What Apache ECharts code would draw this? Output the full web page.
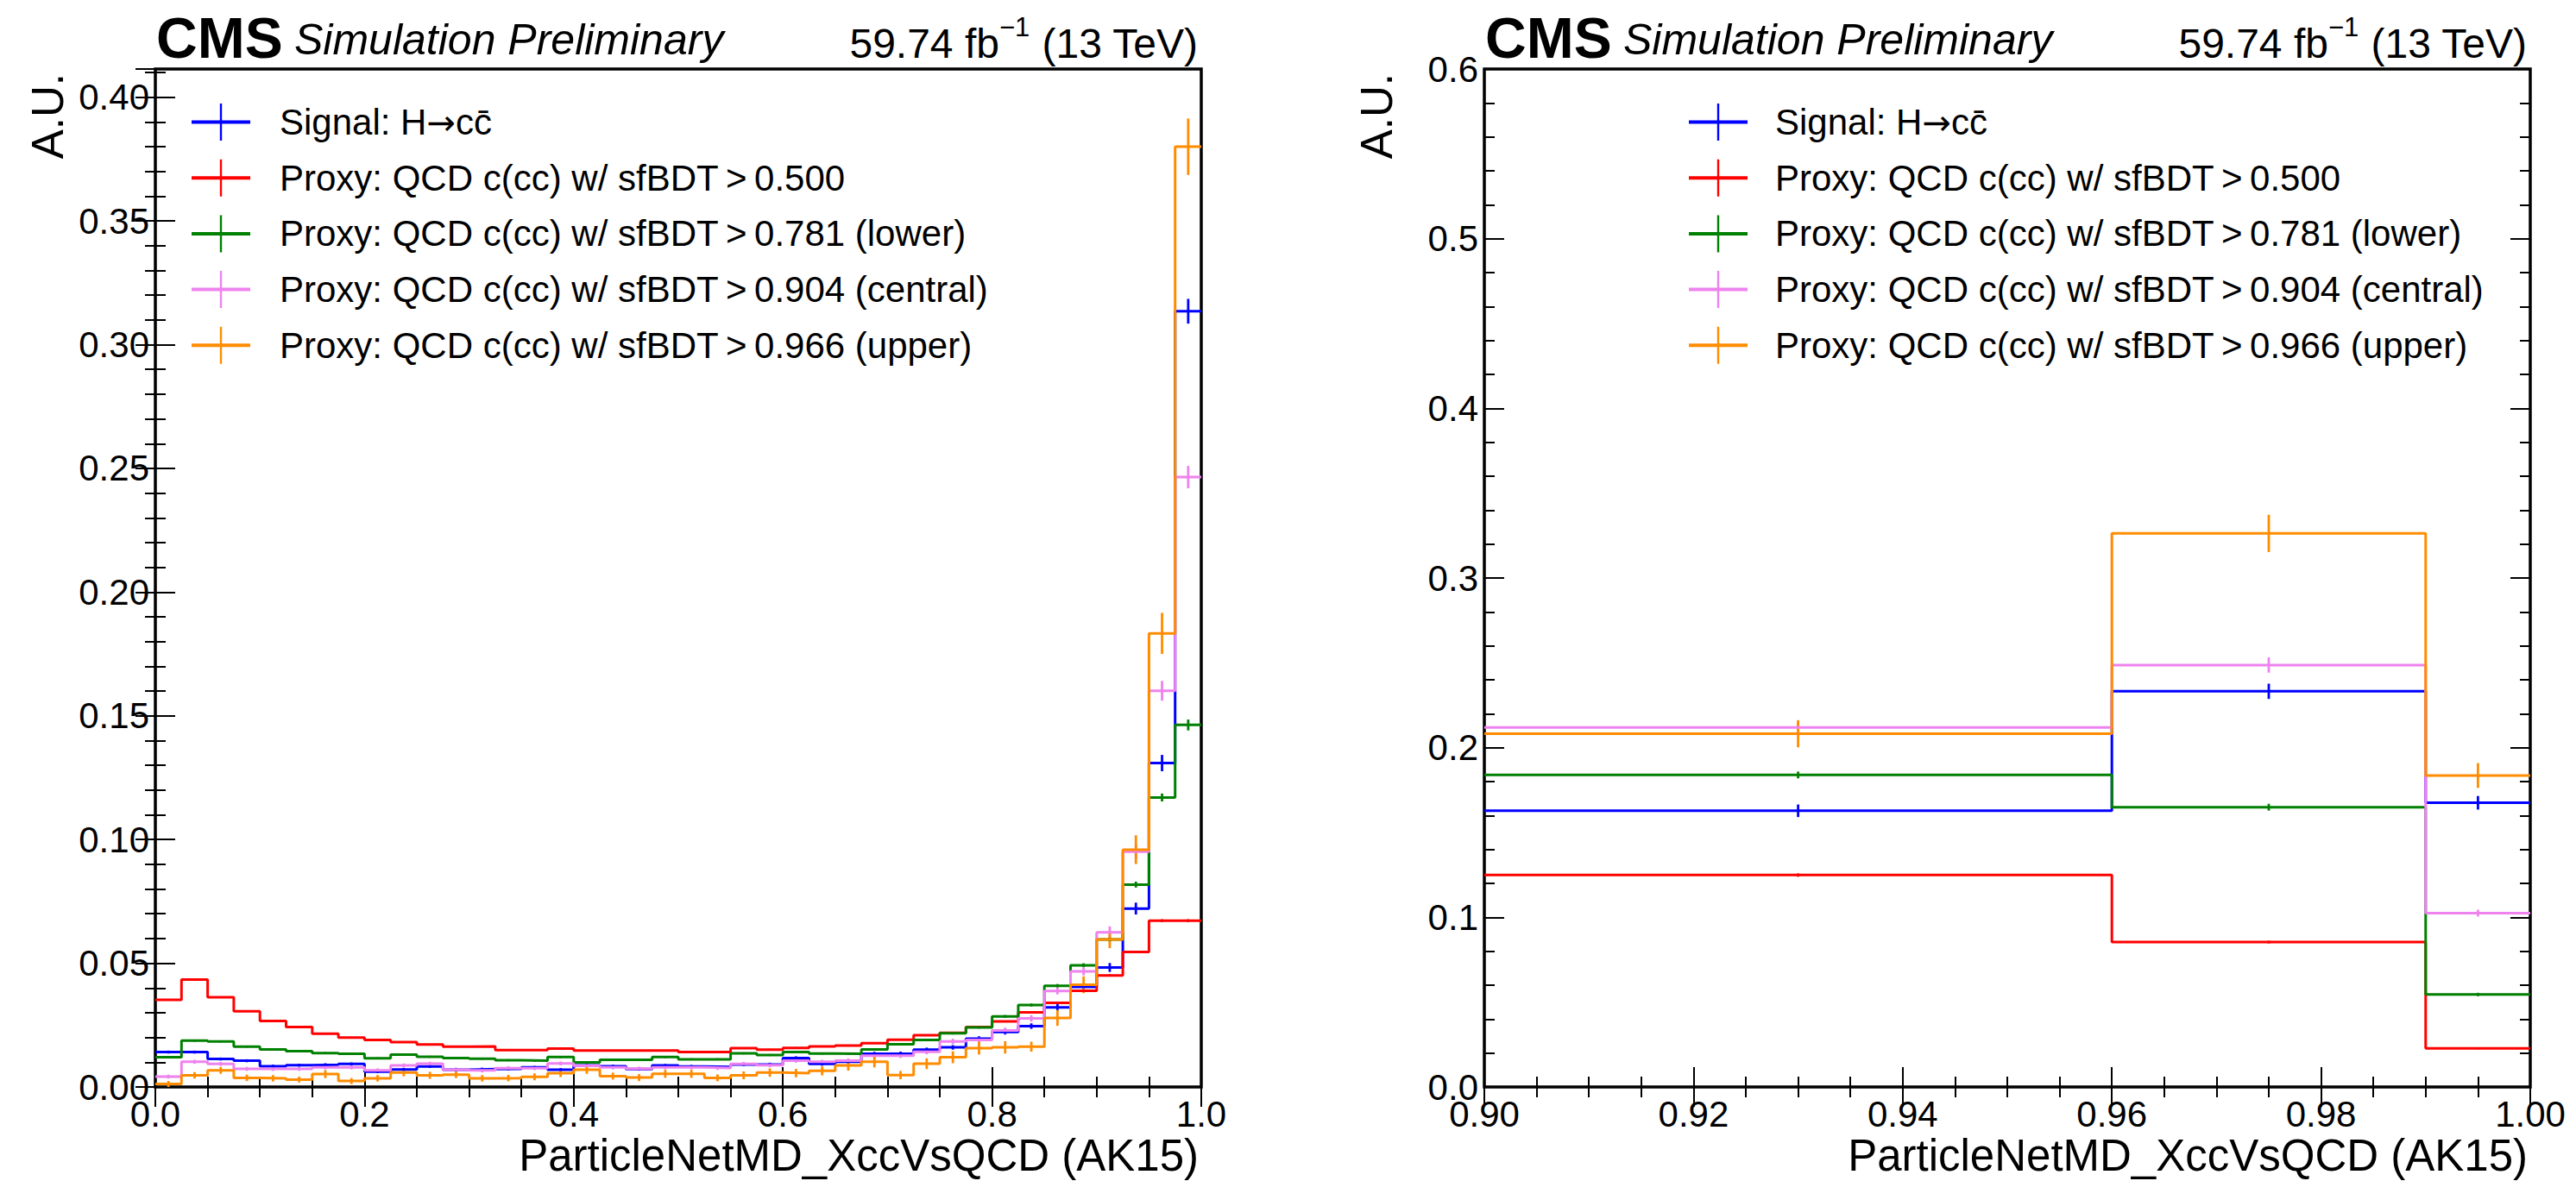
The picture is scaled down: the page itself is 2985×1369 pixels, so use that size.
<!DOCTYPE html>
<html>
<head>
<meta charset="utf-8">
<title>ParticleNetMD_XccVsQCD (AK15)</title>
<script src="https://cdn.jsdelivr.net/npm/echarts@6/dist/echarts.min.js"></script>
<style>
  html, body { margin: 0; padding: 0; background: #fff; }
  #main { width: 2985px; height: 1369px; }
</style>
</head>
<body>
<div id="main"></div>
<script>
// ---------------- data ----------------
const seriesNames = [
    'Signal: H\u2192cc\u0304',
    'Proxy: QCD c(cc) w/ sfBDT\u2009>\u20090.500',
    'Proxy: QCD c(cc) w/ sfBDT\u2009>\u20090.781 (lower)',
    'Proxy: QCD c(cc) w/ sfBDT\u2009>\u20090.904 (central)',
    'Proxy: QCD c(cc) w/ sfBDT\u2009>\u20090.966 (upper)'
];
const seriesColors = ['#0000ff', '#ff0000', '#008000', '#ee82ee', '#ff8c00'];

// left panel: 40 bins of width 0.025 on [0, 1]
const wideEdges = Array.from({ length: 41 }, (_, i) => +(i * 0.025).toFixed(3));

const signalWide = [0.0141, 0.0141, 0.0113, 0.0106, 0.0084, 0.0088, 0.0090, 0.0093, 0.0062, 0.0071,
    0.0083, 0.0070, 0.0072, 0.0073, 0.0079, 0.0070, 0.0087, 0.0084, 0.0072, 0.0087,
    0.0083, 0.0081, 0.0091, 0.0091, 0.0117, 0.0093, 0.0102, 0.0134, 0.0135, 0.0151,
    0.0160, 0.0195, 0.0222, 0.0246, 0.0322, 0.0404, 0.0483, 0.0721, 0.1309, 0.3135];
const proxy500Wide = [0.0352, 0.0434, 0.0363, 0.0306, 0.0267, 0.0242, 0.0215, 0.0200, 0.0190, 0.0181,
    0.0172, 0.0163, 0.0164, 0.0149, 0.0149, 0.0155, 0.0147, 0.0147, 0.0147, 0.0147,
    0.0141, 0.0141, 0.0157, 0.0151, 0.0158, 0.0164, 0.0167, 0.0177, 0.0191, 0.0209,
    0.0219, 0.0242, 0.0265, 0.0302, 0.0340, 0.0389, 0.0451, 0.0546, 0.0672, 0.0672];
const proxy781Wide = [0.0120, 0.0187, 0.0184, 0.0163, 0.0152, 0.0145, 0.0137, 0.0134, 0.0116, 0.0131,
    0.0122, 0.0117, 0.0114, 0.0108, 0.0106, 0.0121, 0.0099, 0.0110, 0.0110, 0.0121,
    0.0112, 0.0112, 0.0136, 0.0129, 0.0141, 0.0135, 0.0134, 0.0152, 0.0173, 0.0190,
    0.0217, 0.0241, 0.0285, 0.0331, 0.0409, 0.0492, 0.0596, 0.0818, 0.1170, 0.1463];
const proxy904Wide = [0.0042, 0.0102, 0.0093, 0.0073, 0.0073, 0.0073, 0.0079, 0.0079, 0.0067, 0.0087,
    0.0094, 0.0070, 0.0067, 0.0076, 0.0076, 0.0095, 0.0085, 0.0079, 0.0074, 0.0079,
    0.0079, 0.0077, 0.0093, 0.0088, 0.0106, 0.0102, 0.0106, 0.0126, 0.0126, 0.0142,
    0.0184, 0.0190, 0.0228, 0.0277, 0.0388, 0.0467, 0.0625, 0.0951, 0.1601, 0.2465];
const proxy966Wide = [0.0012, 0.0047, 0.0067, 0.0037, 0.0035, 0.0030, 0.0052, 0.0024, 0.0035, 0.0058,
    0.0047, 0.0050, 0.0035, 0.0036, 0.0041, 0.0056, 0.0070, 0.0044, 0.0038, 0.0053,
    0.0053, 0.0037, 0.0047, 0.0058, 0.0056, 0.0065, 0.0087, 0.0102, 0.0048, 0.0094,
    0.0120, 0.0157, 0.0160, 0.0163, 0.0279, 0.0413, 0.0596, 0.0959, 0.1833, 0.3800];

const signalWideErr = [0.0006, 0.0006, 0.0006, 0.0006, 0.0006, 0.0006, 0.0006, 0.0006, 0.0006, 0.0006,
    0.0006, 0.0006, 0.0006, 0.0006, 0.0006, 0.0006, 0.0006, 0.0006, 0.0006, 0.0006,
    0.0006, 0.0006, 0.0007, 0.0007, 0.0007, 0.0007, 0.0007, 0.0008, 0.0008, 0.0008,
    0.0009, 0.0010, 0.0010, 0.0011, 0.0013, 0.0015, 0.0018, 0.0024, 0.0033, 0.0050];
const proxy500WideErr = [0.0003, 0.0003, 0.0003, 0.0003, 0.0003, 0.0003, 0.0003, 0.0003, 0.0003, 0.0003,
    0.0003, 0.0003, 0.0003, 0.0003, 0.0003, 0.0003, 0.0003, 0.0003, 0.0003, 0.0003,
    0.0003, 0.0003, 0.0003, 0.0003, 0.0003, 0.0003, 0.0003, 0.0003, 0.0003, 0.0003,
    0.0003, 0.0003, 0.0003, 0.0004, 0.0004, 0.0004, 0.0005, 0.0005, 0.0006, 0.0006];
const proxy781WideErr = [0.0004, 0.0004, 0.0004, 0.0004, 0.0004, 0.0004, 0.0004, 0.0004, 0.0004, 0.0004,
    0.0004, 0.0004, 0.0004, 0.0004, 0.0004, 0.0004, 0.0004, 0.0004, 0.0004, 0.0004,
    0.0004, 0.0004, 0.0004, 0.0004, 0.0004, 0.0004, 0.0004, 0.0004, 0.0004, 0.0004,
    0.0005, 0.0005, 0.0006, 0.0006, 0.0007, 0.0008, 0.0009, 0.0012, 0.0016, 0.0022];
const proxy904WideErr = [0.0008, 0.0008, 0.0008, 0.0008, 0.0008, 0.0008, 0.0008, 0.0008, 0.0008, 0.0008,
    0.0008, 0.0008, 0.0008, 0.0008, 0.0008, 0.0008, 0.0008, 0.0008, 0.0008, 0.0008,
    0.0008, 0.0008, 0.0008, 0.0008, 0.0008, 0.0008, 0.0009, 0.0009, 0.0009, 0.0010,
    0.0011, 0.0011, 0.0012, 0.0013, 0.0014, 0.0016, 0.0024, 0.0030, 0.0040, 0.0045];
const proxy966WideErr = [0.0012, 0.0013, 0.0014, 0.0013, 0.0013, 0.0012, 0.0016, 0.0012, 0.0013, 0.0015,
    0.0014, 0.0014, 0.0013, 0.0013, 0.0014, 0.0016, 0.0017, 0.0014, 0.0014, 0.0016,
    0.0016, 0.0014, 0.0016, 0.0017, 0.0017, 0.0018, 0.0021, 0.0023, 0.0017, 0.0022,
    0.0024, 0.0026, 0.0025, 0.0020, 0.0032, 0.0034, 0.0035, 0.0058, 0.0083, 0.0114];

// right panel: variable bins on [0.9, 1]
const zoomEdges = [0.9, 0.96, 0.99, 1.0];
const signalZoom = [0.1628, 0.2332, 0.1675];
const proxy500Zoom = [0.1249, 0.0854, 0.0227];
const proxy781Zoom = [0.1839, 0.1649, 0.0545];
const proxy904Zoom = [0.2119, 0.2487, 0.1025];
const proxy966Zoom = [0.2082, 0.3263, 0.1836];

const signalZoomErr = [0.0037, 0.0045, 0.0040];
const proxy500ZoomErr = [0.0010, 0.0008, 0.0005];
const proxy781ZoomErr = [0.0020, 0.0020, 0.0010];
const proxy904ZoomErr = [0.0035, 0.0045, 0.0020];
const proxy966ZoomErr = [0.0080, 0.0110, 0.0073];

const wideYMax = 0.4114;
const zoomYMax = 0.6;

const wideValues = [signalWide, proxy500Wide, proxy781Wide, proxy904Wide, proxy966Wide];
const wideErrors = [signalWideErr, proxy500WideErr, proxy781WideErr, proxy904WideErr, proxy966WideErr];
const zoomValues = [signalZoom, proxy500Zoom, proxy781Zoom, proxy904Zoom, proxy966Zoom];
const zoomErrors = [signalZoomErr, proxy500ZoomErr, proxy781ZoomErr, proxy904ZoomErr, proxy966ZoomErr];

// ---------------- helpers ----------------
const FONT = 'Liberation Sans';

// step points at the left edge of every bin, plus the closing right edge
function stepData(edges, vals) {
    const pts = vals.map((v, i) => [edges[i], v]);
    pts.push([edges[edges.length - 1], vals[vals.length - 1]]);
    return pts;
}

function errData(edges, vals, errs) {
    return vals.map((v, i) => [(edges[i] + edges[i + 1]) / 2, v, errs[i]]);
}

function stepLine(name, color, axisIndex, edges, vals) {
    return {
        type: 'line',
        name: name,
        xAxisIndex: axisIndex,
        yAxisIndex: axisIndex,
        step: 'end',
        symbol: 'none',
        showSymbol: false,
        silent: true,
        emphasis: { disabled: true },
        lineStyle: { color: color, width: 3 },
        itemStyle: { color: color },
        data: stepData(edges, vals)
    };
}

function errBars(name, color, axisIndex, edges, vals, errs) {
    return {
        type: 'custom',
        name: name,
        xAxisIndex: axisIndex,
        yAxisIndex: axisIndex,
        silent: true,
        clip: true,
        itemStyle: { color: color },
        encode: { x: 0, y: 1 },
        data: errData(edges, vals, errs),
        renderItem: (params, api) => {
            const x = api.value(0);
            const y = api.value(1);
            const e = api.value(2);
            const lo = api.coord([x, y - e]);
            const hi = api.coord([x, y + e]);
            return {
                type: 'line',
                shape: { x1: lo[0], y1: lo[1], x2: hi[0], y2: hi[1] },
                style: { stroke: color, lineWidth: 2.8 }
            };
        }
    };
}

// one axis = one set of inward ticks; majors carry labels, minors are shorter
function tickAxis(gridIndex, position, min, max, interval, length, label) {
    const axis = {
        type: 'value',
        gridIndex: gridIndex,
        position: position,
        min: min,
        max: max,
        interval: interval,
        axisLine: { show: false },
        splitLine: { show: false },
        axisTick: { show: true, inside: true, length: length, lineStyle: { color: '#000', width: 2 } },
        axisLabel: { show: false }
    };
    if (label) {
        axis.axisLabel = Object.assign({
            show: true, color: '#000', fontFamily: FONT, fontSize: 42
        }, label);
    }
    return axis;
}

function header(frameLeft, frameRight) {
    return [
        {
            type: 'text', x: frameLeft + 1, y: 44,
            style: { text: 'CMS', fill: '#000', fontFamily: FONT, fontWeight: 'bold', fontSize: 66, verticalAlign: 'middle' }
        },
        {
            type: 'text', x: frameLeft + 161, y: 46,
            style: { text: 'Simulation Preliminary', fill: '#000', fontFamily: FONT, fontStyle: 'italic', fontSize: 50, verticalAlign: 'middle' }
        },
        {
            type: 'text', x: frameRight - 4, y: 45,
            style: {
                text: '{a|59.74 fb}{s|\u22121}{a| (13 TeV)}',
                fill: '#000',
                align: 'right',
                verticalAlign: 'middle',
                rich: {
                    a: { fontFamily: FONT, fontSize: 48, lineHeight: 58, verticalAlign: 'bottom', fill: '#000' },
                    s: { fontFamily: FONT, fontSize: 31, lineHeight: 38, verticalAlign: 'top', fill: '#000' }
                }
            }
        },
        {
            type: 'text', x: frameRight - 3, y: 1339,
            style: { text: 'ParticleNetMD_XccVsQCD (AK15)', fill: '#000', fontFamily: FONT, fontSize: 51, align: 'right', verticalAlign: 'middle' }
        },
        {
            type: 'text', x: frameLeft - 125, y: 85, rotation: Math.PI / 2,
            style: { text: 'A.U.', fill: '#000', fontFamily: FONT, fontSize: 51, align: 'right', verticalAlign: 'middle' }
        }
    ];
}

const plusIcon = 'path://M0,19.5h68v4h-68z M32.8,0h2.4v43h-2.4z';

function legendAt(left, textGap) {
    return {
        left: left,
        top: 120,
        padding: 0,
        orient: 'vertical',
        selectedMode: false,
        icon: plusIcon,
        itemWidth: 68,
        itemHeight: 43,
        itemGap: 21.7,
        itemStyle: { borderWidth: 0 },
        // the arrow glyph of Liberation Sans is tiny, take it from DejaVu
        formatter: name => name.replace('\u2192', '{arr|\u2192}'),
        textStyle: {
            color: '#000', fontFamily: FONT, fontSize: 42, lineHeight: 43, padding: [0, 0, 0, textGap],
            rich: { arr: { fontFamily: 'DejaVu Sans', fontSize: 40, color: '#000', lineHeight: 43 } }
        },
        data: seriesNames
    };
}

// ---------------- chart ----------------
const chartDom = document.getElementById('main');
const myChart = echarts.init(chartDom, null, { renderer: 'svg' });

const series = [];
seriesNames.forEach((name, k) => {
    const color = seriesColors[k];
    series.push(stepLine(name, color, 0, wideEdges, wideValues[k]));
    series.push(errBars(name, color, 0, wideEdges, wideValues[k], wideErrors[k]));
    series.push(stepLine(name, color, 4, zoomEdges, zoomValues[k]));
    series.push(errBars(name, color, 4, zoomEdges, zoomValues[k], zoomErrors[k]));
});

const frame = { show: true, borderColor: '#000', borderWidth: 3.5, backgroundColor: 'transparent', containLabel: false, outerBoundsMode: 'none' };

const option = {
    backgroundColor: '#fff',
    animation: false,
    color: seriesColors,
    grid: [
        Object.assign({ left: 180, top: 80, width: 1212, height: 1180 }, frame),
        Object.assign({ left: 1720, top: 80, width: 1212, height: 1180 }, frame)
    ],
    xAxis: [
        tickAxis(0, 'bottom', 0, 1, 0.2, 23, { margin: 10, formatter: v => v.toFixed(1) }),
        tickAxis(0, 'bottom', 0, 1, 0.05, 12),
        tickAxis(0, 'top', 0, 1, 0.2, 23),
        tickAxis(0, 'top', 0, 1, 0.05, 12),
        tickAxis(1, 'bottom', 0.9, 1, 0.02, 23, { margin: 10, formatter: v => v.toFixed(2) }),
        tickAxis(1, 'bottom', 0.9, 1, 0.005, 12),
        tickAxis(1, 'top', 0.9, 1, 0.02, 23),
        tickAxis(1, 'top', 0.9, 1, 0.005, 12)
    ],
    yAxis: [
        tickAxis(0, 'left', 0, wideYMax, 0.05, 23, { margin: 7, showMaxLabel: false, formatter: v => v.toFixed(2) }),
        tickAxis(0, 'left', 0, wideYMax, 0.01, 12),
        tickAxis(0, 'right', 0, wideYMax, 0.05, 23),
        tickAxis(0, 'right', 0, wideYMax, 0.01, 12),
        tickAxis(1, 'left', 0, zoomYMax, 0.1, 23, { margin: 7, formatter: v => v.toFixed(1) }),
        tickAxis(1, 'left', 0, zoomYMax, 0.02, 12),
        tickAxis(1, 'right', 0, zoomYMax, 0.1, 23),
        tickAxis(1, 'right', 0, zoomYMax, 0.02, 12)
    ],
    legend: [legendAt(222, 29), legendAt(1957, 27)],
    graphic: header(180, 1392).concat(header(1720, 2932)),
    series: series
};

myChart.setOption(option);
</script>
</body>
</html>
